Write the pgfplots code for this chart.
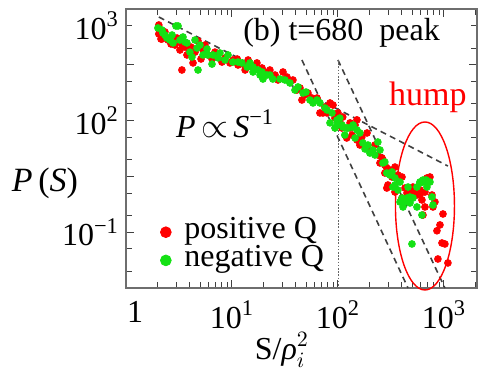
\documentclass[border=0pt]{standalone}
\usepackage{fontspec}
\setmainfont{Liberation Serif}
\usepackage{pgfplots}
\pgfplotsset{compat=1.18}
\definecolor{ptred}{RGB}{255,0,0}
\definecolor{ptgreen}{RGB}{20,225,20}
\definecolor{axgray}{RGB}{110,110,110}
\newcommand{\bigf}{\fontsize{16}{19}\selectfont}
\begin{document}
\begin{tikzpicture}
\begin{axis}[
  name=main,
  scale only axis, width=175.5pt, height=139.5pt,
  xmode=log, ymode=log,
  xmin=1, xmax=2050, ymin=0.01, ymax=1000,
  clip=false,
  axis line style={axgray, line width=0.8pt},
  tick style={black!75, line width=0.5pt},
  major tick length=4pt, minor tick length=3pt,
  tick align=inside,
  xtick={10,100,1000},
  xticklabels={10\textsuperscript{1},10\textsuperscript{2},10\textsuperscript{3}},
  minor xtick={2,3,4,5,6,7,8,9,20,30,40,50,60,70,80,90,200,300,400,500,600,700,800,900,2000},
  extra x ticks={1.22}, extra x tick labels={1},
  extra x tick style={major tick length=0pt},
  ytick={0.01,0.1,1,10,100,1000},
  yticklabels={{},{10\textsuperscript{−1}},{},{10\textsuperscript{2}\hspace{5pt}},{},{}},
  minor ytick={0.02,0.05,0.2,0.5,2,5,20,50,200,500},
  extra y ticks={500}, extra y tick labels={10\textsuperscript{3}\hspace{5pt}},
  extra y tick style={major tick length=0pt},
  tick label style={font=\bigf},
  xticklabel style={yshift=-3pt},
  legend style={draw=none, fill=none, at={(0.097,0.243)}, anchor=north west,
    font=\bigf, inner sep=0pt, row sep=2.5pt,
    nodes={inner sep=0.3pt, text height=8.8pt, text depth=2.2pt}},
  legend cell align=left,
  legend image code/.code={\draw[#1,mark size=2.7pt] plot coordinates {(0pt,0pt)}; \path[draw=none] (-2.7pt,0pt) -- (9pt,0pt);},
]
% positive Q
\addplot[only marks, mark=*, mark size=1.7pt, color=ptred] coordinates {
(2.04,517) (2.14,290) (2.04,357) (2.18,290) (2.33,315) (2.66,236) (3.03,302) (3.37,236) (3.60,208) (3.92,163) (4.10,208) (3.76,150) (3.37,80.7) (4.29,108) (5.10,127) (4.78,267) (5.56,226) (6.48,127) (7.22,138) (8.04,112) (9.57,108) (11.4,99.2) (13.3,80.7) (14.8,95.2) (17.2,108) (11.2,127)
(19.2,87.7) (22.8,80.7) (25.5,65.6) (30.3,74.3) (33.0,60.4) (37.6,53.4) (43.8,38.4) (45.7,23.4) (52.1,31.2) (63.4,25.4) (67.6,13.7) (75.4,17.5) (84.1,20.7) (89.8,19.0) (100,13.7) (104,9.48) (121,4.88) (130,7.37) (151,10.3)
(72.2,13.7) (97.9,12.6) (111,11.6) (130,9.10) (145,8.34) (136,5.52) (151,4.49) (168,5.08) (188,6.00) (223,3.65) (238,2.42) (260,2.14) (266,1.97) (289,1.41) (296,0.701) (323,0.976) (345,0.525) (402,0.410) (458,0.464) (532,0.570) (594,0.464) (662,0.525)
(277,1.60) (277,1.15) (289,0.619) (309,1.30) (345,1.47) (368,1.06) (402,0.976) (429,0.619) (448,0.504) (499,0.525) (510,0.645) (556,0.464) (594,0.570) (620,0.378) (662,0.283) (691,0.937) (738,0.976) (771,0.464) (822,0.348) (634,0.203) (788,0.283) (979,0.212) (917,0.135) (859,0.106) (958,0.0641) (1021,0.0615) (877,0.0331) (1090,0.0281) (568,0.619)
(2.33,388) (2.49,278) (2.90,226) (3.23,184) (4.48,169) (5.33,184) (5.94,150) (6.91,169) (8.59,133) (10.2,122) (12.7,103) (14.2,122) (16.5,87.7) (20.5,74.3) (27.2,53.4) (35.2,49.2) (41.0,35.3) (48.8,28.8) (56.8,25.4) (78.8,13.7) (93.7,11.1) (109,7.37) (161,3.65) (200,2.97) (249,1.74)
};
\addlegendentry{positive Q}
% negative Q
\addplot[only marks, mark=*, mark size=1.7pt, color=ptgreen] coordinates {
(2.23,372) (2.43,302) (2.78,246) (3.10,496) (3.45,315) (3.76,246) (4.19,138) (4.48,278) (4.99,226) (4.78,80.7) (5.81,192) (5.94,150) (6.62,150) (6.48,103) (7.70,163) (8.59,122) (10.2,112) (12.4,108) (14.8,108) (15.8,91.3) (17.6,80.7) (2.60,278) (4.01,169) (2.96,496) (2.18,421)
(15.8,74.3) (18.4,65.6) (21.4,65.6) (19.6,55.6) (24.3,55.6) (28.4,55.6) (35.2,47.2) (39.3,35.3) (46.8,31.2) (54.4,23.4) (58.1,20.7) (67.6,20.7) (78.8,15.5) (87.8,13.7) (97.9,10.3) (109,8.34) (121,7.37) (136,7.68) (151,6.79) (93.7,7.37)
(84.1,9.10) (97.9,8.34) (111,7.68) (124,7.37) (139,8.34) (161,6.00) (172,3.97) (192,3.65) (213,2.97) (200,2.62) (238,4.13) (249,2.97) (266,1.74) (289,1.15) (309,1.06) (330,0.645) (385,0.348) (448,0.410) (478,0.334) (594,0.794) (634,0.862) (691,0.794) (556,0.645)
(277,1.81) (323,1.20) (345,0.937) (385,0.794) (402,0.410) (429,0.348) (458,0.645) (478,0.427) (510,0.410) (556,0.283) (594,0.762) (634,0.794) (677,0.862) (738,0.794) (691,0.645) (771,0.427) (788,0.307) (620,0.203) (499,0.0615) (411,0.283)
(2.00,457) (2.33,342) (2.72,342) (3.23,278) (3.60,256) (4.68,200) (5.33,150) (7.38,133) (9.17,150) (11.4,112) (13.9,91.3) (19.2,74.3) (22.8,65.6) (31.6,53.4) (42.0,40.1) (49.9,32.5) (63.4,23.4) (75.4,16.8) (104,11.1) (116,5.52) (145,4.88) (180,3.10) (223,2.42) (345,0.701) (368,0.570)
};
\addlegendentry{negative Q}
% guide lines
\addplot[forget plot, black!75, line width=0.8pt, dash pattern=on 3pt off 2.2pt] coordinates {(2.04,719) (1090,1.535)};
\addplot[forget plot, black!75, line width=0.8pt, dash pattern=on 3pt off 2.2pt] coordinates {(45.7,122) (458,0.01)};
\addplot[forget plot, black!75, line width=0.8pt, dash pattern=on 3pt off 2.2pt] coordinates {(100,122) (1021,0.01)};
\addplot[forget plot, black!60, line width=0.4pt, dash pattern=on 0.8pt off 0.8pt] coordinates {(100,122) (100,0.01)};
\draw[ptred, line width=0.7pt] (axis cs:662,0.295) ellipse [x radius=14.75pt, y radius=42pt];
\node[anchor=west, font=\bigf, inner sep=0pt] at (rel axis cs:0.333,0.914) {(b) t=680\hspace{0.5em}peak};
\node[font=\fontsize{17}{20}\selectfont, text=ptred, inner sep=0pt] at (rel axis cs:0.86,0.685) {hump};
\node[anchor=base west, font=\bigf, inner sep=0pt] at (rel axis cs:0.142,0.541) {\textit{P}\,$\propto$\,\textit{S}\textsuperscript{−1}};
\node[font=\fontsize{17}{20}\selectfont, inner sep=0pt] at (rel axis cs:-0.231,0.376) {\textit{P}\,(\textit{S})};
\node[font=\bigf, inner sep=0pt] at (rel axis cs:0.444,0) [yshift=-31pt] {S/\textit{ρ}$_{i}^{2}$};
\end{axis}
\pgfresetboundingbox
\path ([shift={(-63pt,-43.5pt)}]main.south west) rectangle ([shift={(7pt,4.5pt)}]main.north east);
\end{tikzpicture}
\end{document}
